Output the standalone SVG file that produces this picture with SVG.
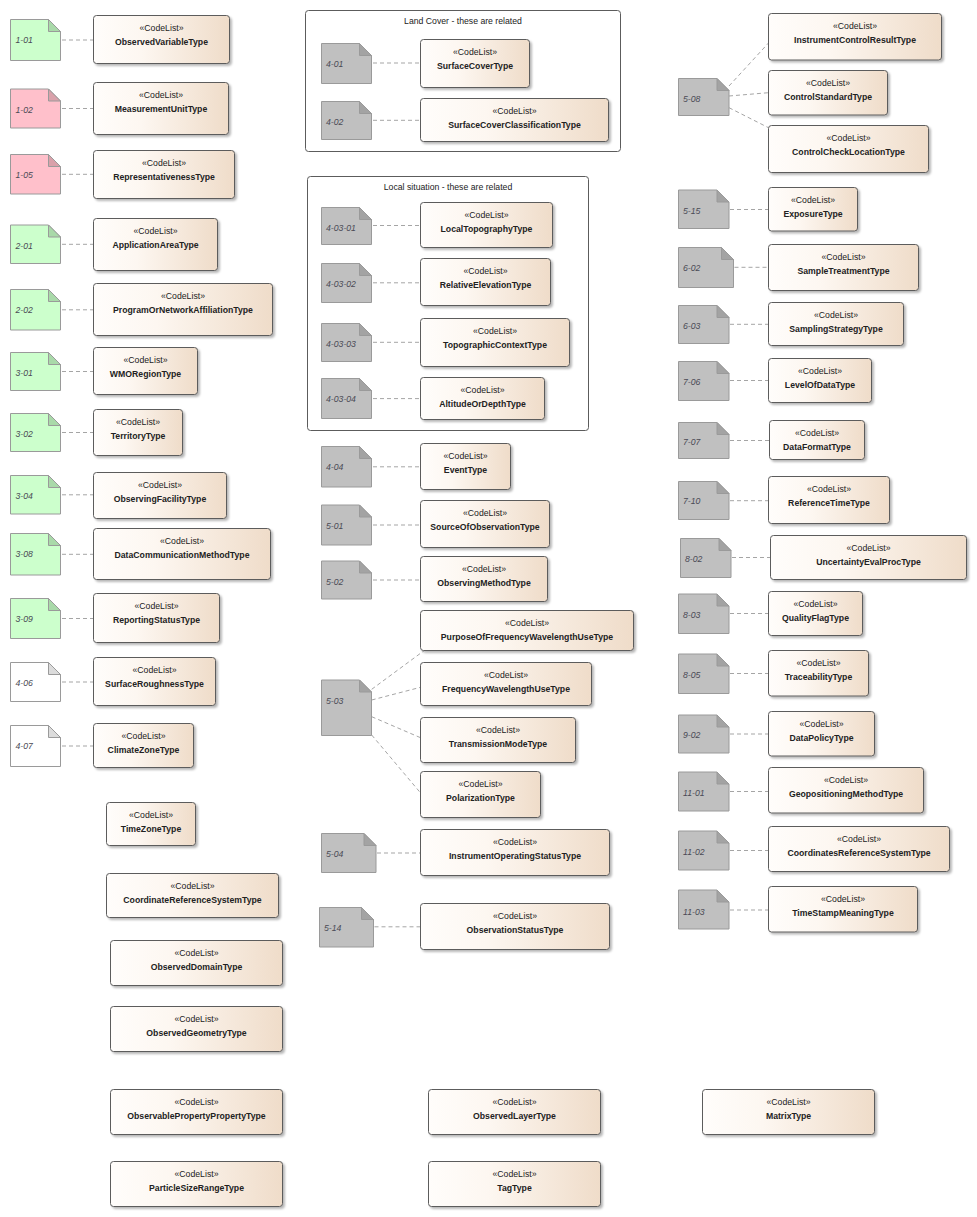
<svg xmlns="http://www.w3.org/2000/svg" width="977" height="1217" viewBox="0 0 977 1217">
<defs>
<linearGradient id="g" x1="0" y1="0" x2="1" y2="0"><stop offset="0" stop-color="#fffdfb"/><stop offset="0.35" stop-color="#fdf7f1"/><stop offset="1" stop-color="#efdcc9"/></linearGradient>
<filter id="sh" x="-10%" y="-10%" width="130%" height="140%"><feDropShadow dx="2" dy="2" stdDeviation="1.2" flood-color="#000" flood-opacity="0.28"/></filter>
</defs>
<style>
text{font-family:"Liberation Sans",Arial,sans-serif;font-size:8.7px;fill:#222}
.cls rect{fill:url(#g);stroke:#5c5c5c;stroke-width:1;filter:url(#sh)}
.cls text{text-anchor:middle}
.cls .nm{font-weight:bold}
.note path{stroke:#9a9a9a;stroke-width:1}
.note text{font-style:italic;fill:#4a4a55}
.green .b{fill:#ccffcc}.green .f{fill:#a9d9a9}
.pink .b{fill:#ffc0cb}.pink .f{fill:#d9a1aa}
.white .b{fill:#ffffff}.white .f{fill:#dcdcdc}
.gray .b{fill:#c0c0c0}.gray .f{fill:#a3a3a3}
.frame rect{fill:#fff;stroke:#5c5c5c;stroke-width:1}
.frame text{text-anchor:middle}
#connectors line{stroke:#a5a5a5;stroke-width:1;stroke-dasharray:4 3;fill:none}
</style>
<rect width="977" height="1217" fill="#fff"/>

<g id="frame-landcover" class="frame"><rect x="305.5" y="10.5" width="315" height="141" rx="3"/><text x="463" y="23.7">Land Cover - these are related</text></g>
<g id="frame-localsituation" class="frame"><rect x="307.5" y="176.5" width="281" height="254" rx="3"/><text x="448" y="189.7">Local situation - these are related</text></g>

<g id="connectors">
<line x1="62" y1="40" x2="93.5" y2="40"/>
<line x1="62" y1="108.5" x2="93.5" y2="108.5"/>
<line x1="62" y1="174.3" x2="93.5" y2="174.3"/>
<line x1="62" y1="244.3" x2="93.5" y2="244.3"/>
<line x1="62" y1="309.8" x2="93.5" y2="309.8"/>
<line x1="62" y1="371.5" x2="93.5" y2="371.5"/>
<line x1="62" y1="432.5" x2="93.5" y2="432.5"/>
<line x1="62" y1="494.8" x2="93.5" y2="494.8"/>
<line x1="62" y1="554.3" x2="93.5" y2="554.3"/>
<line x1="62" y1="618.5" x2="93.5" y2="618.5"/>
<line x1="62" y1="682" x2="93.5" y2="682"/>
<line x1="62" y1="746" x2="93.5" y2="746"/>
<line x1="373" y1="63" x2="420.5" y2="63"/>
<line x1="373" y1="120.3" x2="420.5" y2="120.3"/>
<line x1="373" y1="225.5" x2="420.5" y2="225.5"/>
<line x1="373" y1="282.8" x2="420.5" y2="282.8"/>
<line x1="373" y1="342.3" x2="420.5" y2="342.3"/>
<line x1="373" y1="398.6" x2="420.5" y2="398.6"/>
<line x1="373" y1="466.8" x2="420.5" y2="466.8"/>
<line x1="373" y1="525" x2="420.5" y2="525"/>
<line x1="373" y1="580" x2="420.5" y2="580"/>
<line x1="371.7" y1="689.3" x2="424" y2="650.7"/>
<line x1="371.7" y1="700" x2="420.5" y2="687.3"/>
<line x1="371.7" y1="716.7" x2="420.5" y2="737.7"/>
<line x1="371.7" y1="735" x2="419.5" y2="791.7"/>
<line x1="377" y1="853" x2="420.5" y2="853"/>
<line x1="374.5" y1="926.8" x2="420.5" y2="926.8"/>
<line x1="729" y1="86" x2="768.5" y2="43"/>
<line x1="729" y1="96" x2="768.5" y2="92.7"/>
<line x1="729" y1="107.7" x2="768.5" y2="127.7"/>
<line x1="730" y1="209.5" x2="768.5" y2="209.5"/>
<line x1="734.5" y1="267.3" x2="768.5" y2="267.3"/>
<line x1="730" y1="324.3" x2="768.5" y2="324.3"/>
<line x1="730" y1="380.5" x2="768.5" y2="380.5"/>
<line x1="730" y1="440.5" x2="769.5" y2="440.5"/>
<line x1="730" y1="500.7" x2="768.5" y2="500.7"/>
<line x1="732" y1="557.5" x2="770.5" y2="557.5"/>
<line x1="730" y1="613.5" x2="768.5" y2="613.5"/>
<line x1="730" y1="673.5" x2="768.5" y2="673.5"/>
<line x1="730" y1="734" x2="768.5" y2="734"/>
<line x1="730" y1="791.5" x2="768.5" y2="791.5"/>
<line x1="730" y1="850.5" x2="768.5" y2="850.5"/>
<line x1="730" y1="910" x2="768.5" y2="910"/>
</g>

<!-- Notes left -->
<g id="n-1-01" class="note green"><path class="b" d="M10.5 19.5H48.5L60.5 31.5V60.5H10.5Z"/><path class="f" d="M48.5 19.5V31.5H60.5Z"/><text x="15.5" y="43">1-01</text></g>
<g id="n-1-02" class="note pink"><path class="b" d="M10.5 89H48.5L60.5 101V128H10.5Z"/><path class="f" d="M48.5 89V101H60.5Z"/><text x="15.5" y="112.5">1-02</text></g>
<g id="n-1-05" class="note pink"><path class="b" d="M10.5 154.5H48.5L60.5 166.5V194H10.5Z"/><path class="f" d="M48.5 154.5V166.5H60.5Z"/><text x="15.5" y="178">1-05</text></g>
<g id="n-2-01" class="note green"><path class="b" d="M10.5 225H48.5L60.5 237V263.5H10.5Z"/><path class="f" d="M48.5 225V237H60.5Z"/><text x="15.5" y="248.5">2-01</text></g>
<g id="n-2-02" class="note green"><path class="b" d="M10.5 289.5H48.5L60.5 301.5V330H10.5Z"/><path class="f" d="M48.5 289.5V301.5H60.5Z"/><text x="15.5" y="313">2-02</text></g>
<g id="n-3-01" class="note green"><path class="b" d="M10.5 352.5H48.5L60.5 364.5V390.5H10.5Z"/><path class="f" d="M48.5 352.5V364.5H60.5Z"/><text x="15.5" y="376">3-01</text></g>
<g id="n-3-02" class="note green"><path class="b" d="M10.5 413.5H48.5L60.5 425.5V451.5H10.5Z"/><path class="f" d="M48.5 413.5V425.5H60.5Z"/><text x="15.5" y="436.5">3-02</text></g>
<g id="n-3-04" class="note green"><path class="b" d="M10.5 475.5H48.5L60.5 487.5V514H10.5Z"/><path class="f" d="M48.5 475.5V487.5H60.5Z"/><text x="15.5" y="499">3-04</text></g>
<g id="n-3-08" class="note green"><path class="b" d="M10.5 533.5H48.5L60.5 545.5V575H10.5Z"/><path class="f" d="M48.5 533.5V545.5H60.5Z"/><text x="15.5" y="557">3-08</text></g>
<g id="n-3-09" class="note green"><path class="b" d="M10.5 598.5H48.5L60.5 610.5V638.5H10.5Z"/><path class="f" d="M48.5 598.5V610.5H60.5Z"/><text x="15.5" y="622">3-09</text></g>
<g id="n-4-06" class="note white"><path class="b" d="M10.5 662.5H48.5L60.5 674.5V701.5H10.5Z"/><path class="f" d="M48.5 662.5V674.5H60.5Z"/><text x="15.5" y="686">4-06</text></g>
<g id="n-4-07" class="note white"><path class="b" d="M10.5 725.5H48.5L60.5 737.5V766.5H10.5Z"/><path class="f" d="M48.5 725.5V737.5H60.5Z"/><text x="15.5" y="749">4-07</text></g>

<!-- Notes middle -->
<g id="n-4-01" class="note gray"><path class="b" d="M321.5 43.5H359.5L371.5 55.5V83.5H321.5Z"/><path class="f" d="M359.5 43.5V55.5H371.5Z"/><text x="326" y="67">4-01</text></g>
<g id="n-4-02" class="note gray"><path class="b" d="M321.5 101.5H359.5L371.5 113.5V139.5H321.5Z"/><path class="f" d="M359.5 101.5V113.5H371.5Z"/><text x="326" y="125">4-02</text></g>
<g id="n-4-03-01" class="note gray"><path class="b" d="M321.5 207.5H359.5L371.5 219.5V244.5H321.5Z"/><path class="f" d="M359.5 207.5V219.5H371.5Z"/><text x="326" y="231">4-03-01</text></g>
<g id="n-4-03-02" class="note gray"><path class="b" d="M321.5 263.5H359.5L371.5 275.5V302.5H321.5Z"/><path class="f" d="M359.5 263.5V275.5H371.5Z"/><text x="326" y="287">4-03-02</text></g>
<g id="n-4-03-03" class="note gray"><path class="b" d="M321.5 323.5H359.5L371.5 335.5V361.5H321.5Z"/><path class="f" d="M359.5 323.5V335.5H371.5Z"/><text x="326" y="347">4-03-03</text></g>
<g id="n-4-03-04" class="note gray"><path class="b" d="M321.5 378.5H359.5L371.5 390.5V418.5H321.5Z"/><path class="f" d="M359.5 378.5V390.5H371.5Z"/><text x="326" y="402">4-03-04</text></g>
<g id="n-4-04" class="note gray"><path class="b" d="M321.5 446.5H359.5L371.5 458.5V487H321.5Z"/><path class="f" d="M359.5 446.5V458.5H371.5Z"/><text x="326" y="470">4-04</text></g>
<g id="n-5-01" class="note gray"><path class="b" d="M321.5 505H359.5L371.5 517V545H321.5Z"/><path class="f" d="M359.5 505V517H371.5Z"/><text x="326" y="528.5">5-01</text></g>
<g id="n-5-02" class="note gray"><path class="b" d="M321.5 561H359.5L371.5 573V599H321.5Z"/><path class="f" d="M359.5 561V573H371.5Z"/><text x="326" y="584.5">5-02</text></g>
<g id="n-5-03" class="note gray"><path class="b" d="M321.5 680H359.5L371.5 692V735.5H321.5Z"/><path class="f" d="M359.5 680V692H371.5Z"/><text x="326" y="703.7">5-03</text></g>
<g id="n-5-04" class="note gray"><path class="b" d="M321.5 833.5H364L376 845.5V872.5H321.5Z"/><path class="f" d="M364 833.5V845.5H376Z"/><text x="326" y="857">5-04</text></g>
<g id="n-5-14" class="note gray"><path class="b" d="M319.5 907.5H361.5L373.5 919.5V947H319.5Z"/><path class="f" d="M361.5 907.5V919.5H373.5Z"/><text x="324" y="931">5-14</text></g>

<!-- Notes right -->
<g id="n-5-08" class="note gray"><path class="b" d="M678.5 78.5H717L729 90.5V115.5H678.5Z"/><path class="f" d="M717 78.5V90.5H729Z"/><text x="683" y="102.3">5-08</text></g>
<g id="n-5-15" class="note gray"><path class="b" d="M678.5 190H717L729 202V228.5H678.5Z"/><path class="f" d="M717 190V202H729Z"/><text x="683" y="213.5">5-15</text></g>
<g id="n-6-02" class="note gray"><path class="b" d="M678.5 247.5H721.5L733.5 259.5V287.5H678.5Z"/><path class="f" d="M721.5 247.5V259.5H733.5Z"/><text x="683" y="271">6-02</text></g>
<g id="n-6-03" class="note gray"><path class="b" d="M678.5 305.5H717L729 317.5V343.5H678.5Z"/><path class="f" d="M717 305.5V317.5H729Z"/><text x="683" y="329">6-03</text></g>
<g id="n-7-06" class="note gray"><path class="b" d="M678.5 361.5H717L729 373.5V400.5H678.5Z"/><path class="f" d="M717 361.5V373.5H729Z"/><text x="683" y="385">7-06</text></g>
<g id="n-7-07" class="note gray"><path class="b" d="M678.5 422.5H717L729 434.5V458.5H678.5Z"/><path class="f" d="M717 422.5V434.5H729Z"/><text x="683" y="444.5">7-07</text></g>
<g id="n-7-10" class="note gray"><path class="b" d="M678.5 481.5H717L729 493.5V519.5H678.5Z"/><path class="f" d="M717 481.5V493.5H729Z"/><text x="683" y="503.5">7-10</text></g>
<g id="n-8-02" class="note gray"><path class="b" d="M680.5 538.5H719L731 550.5V577.5H680.5Z"/><path class="f" d="M719 538.5V550.5H731Z"/><text x="685" y="562">8-02</text></g>
<g id="n-8-03" class="note gray"><path class="b" d="M678.5 594H717L729 606V633.5H678.5Z"/><path class="f" d="M717 594V606H729Z"/><text x="683" y="617.5">8-03</text></g>
<g id="n-8-05" class="note gray"><path class="b" d="M678.5 654H717L729 666V693.5H678.5Z"/><path class="f" d="M717 654V666H729Z"/><text x="683" y="677.5">8-05</text></g>
<g id="n-9-02" class="note gray"><path class="b" d="M678.5 715H717L729 727V753H678.5Z"/><path class="f" d="M717 715V727H729Z"/><text x="683" y="738">9-02</text></g>
<g id="n-11-01" class="note gray"><path class="b" d="M678.5 772H717L729 784V811H678.5Z"/><path class="f" d="M717 772V784H729Z"/><text x="683" y="796">11-01</text></g>
<g id="n-11-02" class="note gray"><path class="b" d="M678.5 831H717L729 843V870H678.5Z"/><path class="f" d="M717 831V843H729Z"/><text x="683" y="854.5">11-02</text></g>
<g id="n-11-03" class="note gray"><path class="b" d="M678.5 890H717L729 902V929H678.5Z"/><path class="f" d="M717 890V902H729Z"/><text x="683" y="914.5">11-03</text></g>

<!-- Classes left -->
<g id="c-ObservedVariableType" class="cls"><rect x="93.5" y="15.5" width="136" height="48" rx="3"/><text x="161.5" y="31.3">«CodeList»</text><text class="nm" x="161.5" y="44.7">ObservedVariableType</text></g>
<g id="c-MeasurementUnitType" class="cls"><rect x="93.5" y="82.5" width="135" height="52" rx="3"/><text x="161" y="98.3">«CodeList»</text><text class="nm" x="161" y="111.7">MeasurementUnitType</text></g>
<g id="c-RepresentativenessType" class="cls"><rect x="93.5" y="150.5" width="141" height="48" rx="3"/><text x="164" y="166.3">«CodeList»</text><text class="nm" x="164" y="179.7">RepresentativenessType</text></g>
<g id="c-ApplicationAreaType" class="cls"><rect x="93.5" y="218.5" width="124" height="52" rx="3"/><text x="155.5" y="234.3">«CodeList»</text><text class="nm" x="155.5" y="247.7">ApplicationAreaType</text></g>
<g id="c-ProgramOrNetworkAffiliationType" class="cls"><rect x="93.5" y="283.5" width="179" height="52" rx="3"/><text x="183" y="299.3">«CodeList»</text><text class="nm" x="183" y="312.7">ProgramOrNetworkAffiliationType</text></g>
<g id="c-WMORegionType" class="cls"><rect x="93.5" y="347.5" width="104" height="47" rx="3"/><text x="145.5" y="363.3">«CodeList»</text><text class="nm" x="145.5" y="376.7">WMORegionType</text></g>
<g id="c-TerritoryType" class="cls"><rect x="93.5" y="409.5" width="89" height="46" rx="3"/><text x="138" y="425.3">«CodeList»</text><text class="nm" x="138" y="438.7">TerritoryType</text></g>
<g id="c-ObservingFacilityType" class="cls"><rect x="93.5" y="472.5" width="133" height="46" rx="3"/><text x="160" y="488.3">«CodeList»</text><text class="nm" x="160" y="501.7">ObservingFacilityType</text></g>
<g id="c-DataCommunicationMethodType" class="cls"><rect x="93.5" y="528.5" width="177" height="51" rx="3"/><text x="182" y="544.3">«CodeList»</text><text class="nm" x="182" y="557.7">DataCommunicationMethodType</text></g>
<g id="c-ReportingStatusType" class="cls"><rect x="93.5" y="593.5" width="126" height="49" rx="3"/><text x="156.5" y="609.3">«CodeList»</text><text class="nm" x="156.5" y="622.7">ReportingStatusType</text></g>
<g id="c-SurfaceRoughnessType" class="cls"><rect x="93.5" y="657.5" width="122" height="48" rx="3"/><text x="154.5" y="673.3">«CodeList»</text><text class="nm" x="154.5" y="686.7">SurfaceRoughnessType</text></g>
<g id="c-ClimateZoneType" class="cls"><rect x="93.5" y="723.5" width="100" height="44" rx="3"/><text x="143.5" y="739.3">«CodeList»</text><text class="nm" x="143.5" y="752.7">ClimateZoneType</text></g>
<g id="c-TimeZoneType" class="cls"><rect x="106.5" y="802.5" width="89" height="43" rx="3"/><text x="151" y="818.3">«CodeList»</text><text class="nm" x="151" y="831.7">TimeZoneType</text></g>
<g id="c-CoordinateReferenceSystemType" class="cls"><rect x="106.5" y="873.5" width="172" height="44" rx="3"/><text x="192.5" y="889.3">«CodeList»</text><text class="nm" x="192.5" y="902.7">CoordinateReferenceSystemType</text></g>
<g id="c-ObservedDomainType" class="cls"><rect x="110.5" y="940.5" width="172" height="45" rx="3"/><text x="196.5" y="956.3">«CodeList»</text><text class="nm" x="196.5" y="969.7">ObservedDomainType</text></g>
<g id="c-ObservedGeometryType" class="cls"><rect x="110.5" y="1006.5" width="172" height="45" rx="3"/><text x="196.5" y="1022.3">«CodeList»</text><text class="nm" x="196.5" y="1035.7">ObservedGeometryType</text></g>
<g id="c-ObservablePropertyPropertyType" class="cls"><rect x="110.5" y="1089.5" width="172" height="45" rx="3"/><text x="196.5" y="1105.3">«CodeList»</text><text class="nm" x="196.5" y="1118.7">ObservablePropertyPropertyType</text></g>
<g id="c-ParticleSizeRangeType" class="cls"><rect x="110.5" y="1161.5" width="172" height="45" rx="3"/><text x="196.5" y="1177.3">«CodeList»</text><text class="nm" x="196.5" y="1190.7">ParticleSizeRangeType</text></g>
<g id="c-ObservedLayerType" class="cls"><rect x="428.5" y="1089.5" width="172" height="45" rx="3"/><text x="514.5" y="1105.3">«CodeList»</text><text class="nm" x="514.5" y="1118.7">ObservedLayerType</text></g>
<g id="c-TagType" class="cls"><rect x="428.5" y="1161.5" width="172" height="45" rx="3"/><text x="514.5" y="1177.3">«CodeList»</text><text class="nm" x="514.5" y="1190.7">TagType</text></g>
<g id="c-MatrixType" class="cls"><rect x="702.5" y="1089.5" width="172" height="45" rx="3"/><text x="788.5" y="1105.3">«CodeList»</text><text class="nm" x="788.5" y="1118.7">MatrixType</text></g>

<!-- Classes middle -->
<g id="c-SurfaceCoverType" class="cls"><rect x="420.5" y="39.5" width="109" height="48" rx="3"/><text x="475" y="55.3">«CodeList»</text><text class="nm" x="475" y="68.7">SurfaceCoverType</text></g>
<g id="c-SurfaceCoverClassificationType" class="cls"><rect x="420.5" y="98.5" width="188" height="43" rx="3"/><text x="514.5" y="114.3">«CodeList»</text><text class="nm" x="514.5" y="127.7">SurfaceCoverClassificationType</text></g>
<g id="c-LocalTopographyType" class="cls"><rect x="420.5" y="202.5" width="132" height="45" rx="3"/><text x="486.5" y="218.3">«CodeList»</text><text class="nm" x="486.5" y="231.7">LocalTopographyType</text></g>
<g id="c-RelativeElevationType" class="cls"><rect x="420.5" y="258.5" width="130" height="47" rx="3"/><text x="485.5" y="274.3">«CodeList»</text><text class="nm" x="485.5" y="287.7">RelativeElevationType</text></g>
<g id="c-TopographicContextType" class="cls"><rect x="420.5" y="318.5" width="149" height="48" rx="3"/><text x="495" y="334.3">«CodeList»</text><text class="nm" x="495" y="347.7">TopographicContextType</text></g>
<g id="c-AltitudeOrDepthType" class="cls"><rect x="420.5" y="377.5" width="124" height="42" rx="3"/><text x="482.5" y="393.3">«CodeList»</text><text class="nm" x="482.5" y="406.7">AltitudeOrDepthType</text></g>
<g id="c-EventType" class="cls"><rect x="420.5" y="443.5" width="90" height="46" rx="3"/><text x="465.5" y="459.3">«CodeList»</text><text class="nm" x="465.5" y="472.7">EventType</text></g>
<g id="c-SourceOfObservationType" class="cls"><rect x="420.5" y="500.5" width="129" height="47" rx="3"/><text x="485" y="516.3">«CodeList»</text><text class="nm" x="485" y="529.7">SourceOfObservationType</text></g>
<g id="c-ObservingMethodType" class="cls"><rect x="420.5" y="556.5" width="127" height="45" rx="3"/><text x="484" y="572.3">«CodeList»</text><text class="nm" x="484" y="585.7">ObservingMethodType</text></g>
<g id="c-PurposeOfFrequencyWavelengthUseType" class="cls"><rect x="420.5" y="610.5" width="213" height="40" rx="3"/><text x="527" y="626.3">«CodeList»</text><text class="nm" x="527" y="639.7">PurposeOfFrequencyWavelengthUseType</text></g>
<g id="c-FrequencyWavelengthUseType" class="cls"><rect x="420.5" y="662.5" width="171" height="43" rx="3"/><text x="506" y="678.3">«CodeList»</text><text class="nm" x="506" y="691.7">FrequencyWavelengthUseType</text></g>
<g id="c-TransmissionModeType" class="cls"><rect x="420.5" y="717.5" width="155" height="45" rx="3"/><text x="498" y="733.3">«CodeList»</text><text class="nm" x="498" y="746.7">TransmissionModeType</text></g>
<g id="c-PolarizationType" class="cls"><rect x="420.5" y="771.5" width="120" height="46" rx="3"/><text x="480.5" y="787.3">«CodeList»</text><text class="nm" x="480.5" y="800.7">PolarizationType</text></g>
<g id="c-InstrumentOperatingStatusType" class="cls"><rect x="420.5" y="829.5" width="189" height="46" rx="3"/><text x="515" y="845.3">«CodeList»</text><text class="nm" x="515" y="858.7">InstrumentOperatingStatusType</text></g>
<g id="c-ObservationStatusType" class="cls"><rect x="420.5" y="903.5" width="189" height="46" rx="3"/><text x="515" y="919.3">«CodeList»</text><text class="nm" x="515" y="932.7">ObservationStatusType</text></g>

<!-- Classes right -->
<g id="c-InstrumentControlResultType" class="cls"><rect x="768.5" y="13.5" width="173" height="46.5" rx="3"/><text x="855" y="29.3">«CodeList»</text><text class="nm" x="855" y="42.7">InstrumentControlResultType</text></g>
<g id="c-ControlStandardType" class="cls"><rect x="768.5" y="70.5" width="119" height="44.5" rx="3"/><text x="828" y="86.3">«CodeList»</text><text class="nm" x="828" y="99.7">ControlStandardType</text></g>
<g id="c-ControlCheckLocationType" class="cls"><rect x="768.5" y="125.5" width="160" height="47" rx="3"/><text x="848.5" y="141.3">«CodeList»</text><text class="nm" x="848.5" y="154.7">ControlCheckLocationType</text></g>
<g id="c-ExposureType" class="cls"><rect x="768.5" y="187.5" width="89" height="43.5" rx="3"/><text x="813" y="203.3">«CodeList»</text><text class="nm" x="813" y="216.7">ExposureType</text></g>
<g id="c-SampleTreatmentType" class="cls"><rect x="768.5" y="244.5" width="150" height="46" rx="3"/><text x="843.5" y="260.3">«CodeList»</text><text class="nm" x="843.5" y="273.7">SampleTreatmentType</text></g>
<g id="c-SamplingStrategyType" class="cls"><rect x="768.5" y="302.5" width="135" height="43" rx="3"/><text x="836" y="318.3">«CodeList»</text><text class="nm" x="836" y="331.7">SamplingStrategyType</text></g>
<g id="c-LevelOfDataType" class="cls"><rect x="768.5" y="358.5" width="103" height="44" rx="3"/><text x="820" y="374.3">«CodeList»</text><text class="nm" x="820" y="387.7">LevelOfDataType</text></g>
<g id="c-DataFormatType" class="cls"><rect x="769.5" y="420.5" width="95" height="39" rx="3"/><text x="817" y="436.3">«CodeList»</text><text class="nm" x="817" y="449.7">DataFormatType</text></g>
<g id="c-ReferenceTimeType" class="cls"><rect x="768.5" y="476.5" width="121" height="47" rx="3"/><text x="829" y="492.3">«CodeList»</text><text class="nm" x="829" y="505.7">ReferenceTimeType</text></g>
<g id="c-UncertaintyEvalProcType" class="cls"><rect x="770.5" y="535.5" width="196" height="44" rx="3"/><text x="868.5" y="551.3">«CodeList»</text><text class="nm" x="868.5" y="564.7">UncertaintyEvalProcType</text></g>
<g id="c-QualityFlagType" class="cls"><rect x="768.5" y="591.5" width="94" height="44" rx="3"/><text x="815.5" y="607.3">«CodeList»</text><text class="nm" x="815.5" y="620.7">QualityFlagType</text></g>
<g id="c-TraceabilityType" class="cls"><rect x="768.5" y="650.5" width="100" height="45.5" rx="3"/><text x="818.5" y="666.3">«CodeList»</text><text class="nm" x="818.5" y="679.7">TraceabilityType</text></g>
<g id="c-DataPolicyType" class="cls"><rect x="768.5" y="711.5" width="106" height="44.5" rx="3"/><text x="821.5" y="727.3">«CodeList»</text><text class="nm" x="821.5" y="740.7">DataPolicyType</text></g>
<g id="c-GeopositioningMethodType" class="cls"><rect x="768.5" y="767.5" width="155" height="45.5" rx="3"/><text x="846" y="783.3">«CodeList»</text><text class="nm" x="846" y="796.7">GeopositioningMethodType</text></g>
<g id="c-CoordinatesReferenceSystemType" class="cls"><rect x="768.5" y="826.5" width="181" height="45" rx="3"/><text x="859" y="842.3">«CodeList»</text><text class="nm" x="859" y="855.7">CoordinatesReferenceSystemType</text></g>
<g id="c-TimeStampMeaningType" class="cls"><rect x="768.5" y="886.5" width="149" height="45.5" rx="3"/><text x="843" y="902.3">«CodeList»</text><text class="nm" x="843" y="915.7">TimeStampMeaningType</text></g>
</svg>
